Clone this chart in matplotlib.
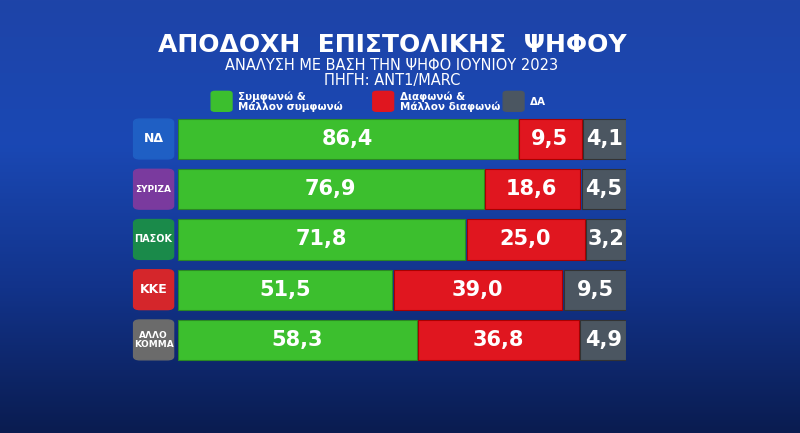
import matplotlib.pyplot as plt
import numpy as np
from matplotlib.patches import FancyBboxPatch
from matplotlib.colors import LinearSegmentedColormap

parties = ['ΝΔ', 'ΣΥΡΙΖΑ', 'ΠΑΣΟΚ', 'ΚΚΕ', 'ΑΛΛΟ\nΚΟΜΜΑ']
logo_colors = ['#1f5fc4', '#7a3a9e', '#1a8a4a', '#d5262b', '#6b6b6b']
logo_sizes = [9, 6.5, 7, 9, 6.5]
agree = [86.4, 76.9, 71.8, 51.5, 58.3]
disagree = [9.5, 18.6, 25.0, 39.0, 36.8]
dk = [4.1, 4.5, 3.2, 9.5, 4.9]
legend_labels = ['Συμφωνώ &\nΜάλλον συμφωνώ', 'Διαφωνώ &\nΜάλλον διαφωνώ', 'ΔΑ']
colors = ['#3cbf2e', '#e0161f', '#4b5661']

# the broadcast graphic gives every segment a fixed extra width
PAD = 8.3

def fmt(v):
    return f'{v:.1f}'.replace('.', ',')

fig = plt.figure(figsize=(8, 4.33), dpi=100)
bg = fig.add_axes([0, 0, 1, 1])
grad = np.linspace(0, 1, 256).reshape(-1, 1)
cmap = LinearSegmentedColormap.from_list('bg', ['#1e44a8', '#1a48b4', '#12338a', '#0a1c50'])
bg.imshow(grad, aspect='auto', cmap=cmap, extent=[0, 1, 0, 1], origin='upper')
bg.set_xlim(0, 1); bg.set_ylim(0, 1)
bg.axis('off')

fig.text(0.49, 0.895, 'ΑΠΟΔΟΧΗ  ΕΠΙΣΤΟΛΙΚΗΣ  ΨΗΦΟΥ', color='white', fontsize=18,
         ha='center', va='center', fontweight='semibold')
fig.text(0.49, 0.848, 'ΑΝΑΛΥΣΗ ΜΕ ΒΑΣΗ ΤΗΝ ΨΗΦΟ ΙΟΥΝΙΟΥ 2023', color='white', fontsize=10.5,
         ha='center', va='center')
fig.text(0.49, 0.813, 'ΠΗΓΗ: ΑΝΤ1/MARC', color='white', fontsize=10.5, ha='center', va='center')

leg_x = [0.278, 0.48, 0.643]
for x, c, lab in zip(leg_x, colors, legend_labels):
    bg.add_patch(FancyBboxPatch((x - 0.012, 0.745), 0.022, 0.042,
                                boxstyle='round,pad=0.002,rounding_size=0.005',
                                color=c, transform=fig.transFigure))
    fig.text(x + 0.02, 0.765, lab, color='white', fontsize=7.5, fontweight='bold',
             ha='left', va='center', linespacing=0.95)

ax = fig.add_axes([0.2225, 0.157, 0.56, 0.58])
ax.set_xlim(0, 100 + 3 * PAD)
ax.set_ylim(4.5, -0.5)
ax.axis('off')
y = np.arange(len(parties))
h = 0.8
w1 = np.array(agree) + PAD
w2 = np.array(disagree) + PAD
w3 = np.array(dk) + PAD
ax.barh(y, w1, height=h, color=colors[0], edgecolor='#2a8a22', lw=0.8)
ax.barh(y, w2 - 0.4, left=w1 + 0.4, height=h, color=colors[1], edgecolor='#a00', lw=0.8)
ax.barh(y, w3 - 0.4, left=w1 + w2 + 0.4, height=h, color=colors[2], edgecolor='#333', lw=0.8)
for i in range(len(parties)):
    ax.text(w1[i] / 2, i, fmt(agree[i]), color='white', fontsize=15, fontweight='bold',
            ha='center', va='center')
    ax.text(w1[i] + w2[i] / 2, i, fmt(disagree[i]), color='white', fontsize=15,
            fontweight='bold', ha='center', va='center')
    ax.text(w1[i] + w2[i] + w3[i] / 2 + 0.3, i, fmt(dk[i]), color='white', fontsize=15,
            fontweight='bold', ha='center', va='center')

# party logo boxes, placed in figure coords at each row's centre
fig.canvas.draw()
for i in range(len(parties)):
    _, yc = fig.transFigure.inverted().transform(ax.transData.transform((0, i)))
    bg.add_patch(FancyBboxPatch((0.167, yc - 0.046), 0.05, 0.092,
                                boxstyle='round,pad=0,rounding_size=0.008',
                                color=logo_colors[i], transform=fig.transFigure))
    fig.text(0.192, yc, parties[i], color='white', fontsize=logo_sizes[i],
             fontweight='bold', ha='center', va='center', linespacing=0.9)

fig.savefig('out.png', dpi=100)
